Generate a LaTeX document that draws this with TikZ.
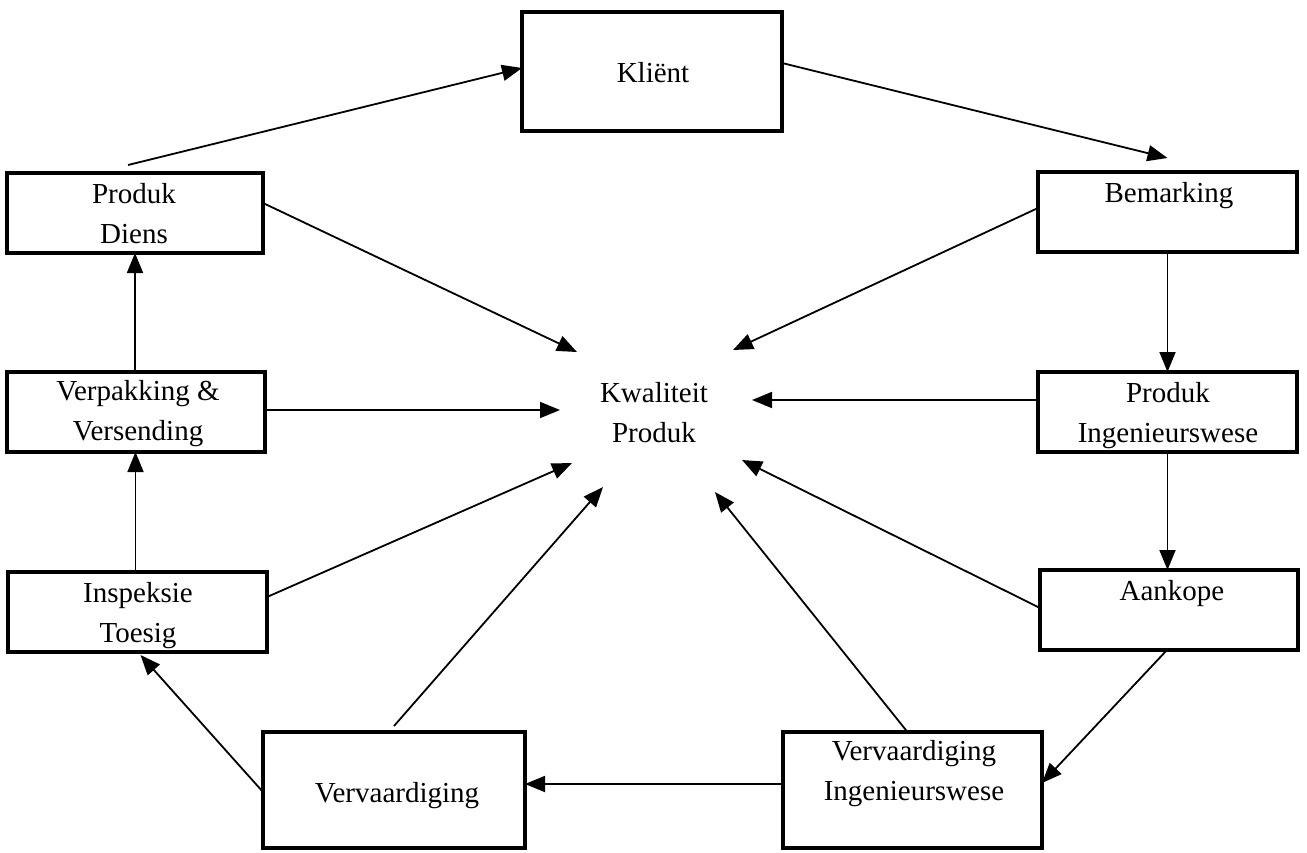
\documentclass[tikz,border=0pt]{standalone}
\usepackage{fontspec}
\setmainfont{Liberation Serif}
\usetikzlibrary{arrows.meta}
\begin{document}
\begin{tikzpicture}[x=1pt,y=-1pt,
  box/.style={draw=black,line width=3.5pt,fill=none,inner sep=0pt,outer sep=0pt},
  lbl/.style={font=\fontsize{29}{40}\selectfont,align=center,anchor=base,inner sep=0pt},
  conn/.style={line width=1.8pt,-{Triangle[length=20pt,width=16pt]}}]
\useasboundingbox (0,0) rectangle (1307,852);
% boxes
\node[box,minimum width=260pt,minimum height=119pt] (kl)  at (652,71.5) {};
\node[box,minimum width=259pt,minimum height=80pt]  (bem) at (1167.5,212) {};
\node[box,minimum width=259pt,minimum height=80pt]  (pi)  at (1167.5,412) {};
\node[box,minimum width=258pt,minimum height=80pt]  (aan) at (1169,610) {};
\node[box,minimum width=259pt,minimum height=116pt] (vi)  at (912.5,790) {};
\node[box,minimum width=262pt,minimum height=116pt] (ver) at (394,790) {};
\node[box,minimum width=259pt,minimum height=80pt]  (ins) at (137.5,612) {};
\node[box,minimum width=258pt,minimum height=80pt]  (vp)  at (136,412) {};
\node[box,minimum width=256pt,minimum height=80pt]  (pd)  at (135,213) {};
% labels (anchor = baseline of the last line)
\node[lbl] (klt)  at (653,82) {Kliënt};
\node[lbl] (bemt) at (1169,202) {Bemarking};
\node[lbl] (pit)  at (1168,442) {Produk\\Ingenieurswese};
\node[lbl] (aant) at (1172,600) {Aankope};
\node[lbl] (vit)  at (914,800) {Vervaardiging\\Ingenieurswese};
\node[lbl] (vert) at (397,802) {Vervaardiging};
\node[lbl] (inst) at (138,642) {Inspeksie\\Toesig};
\node[lbl] (vpt)  at (138,440) {Verpakking \&\\Versending};
\node[lbl] (pdt)  at (134,243) {Produk\\Diens};
\node[lbl] (kp)   at (654,442) {Kwaliteit\\Produk};
% arrow tips around the centre
\coordinate (t1) at (577,352);
\coordinate (t2) at (733,350);
\coordinate (t3) at (560,410);
\coordinate (t4) at (752,400);
\coordinate (t5) at (572,463);
\coordinate (t6) at (603,487);
\coordinate (t7) at (742,460);
\coordinate (t8) at (715,492);
% cycle
\draw[conn] ([xshift=-7pt,yshift=8pt]pd.north) -- ([yshift=3.5pt]kl.west);
\draw[conn] ([yshift=8.5pt]kl.east) -- ([yshift=14pt]bem.north);
\draw[conn] (bem.south) -- (pi.north);
\draw[conn] (pi.south) -- (pi.south |- aan.north);
\draw[conn] ([xshift=-2pt]aan.south) -- ([yshift=7pt]vi.east);
\draw[conn] ([yshift=6pt]vi.west) -- ([yshift=6pt]ver.east);
\draw[conn] ([yshift=-2pt]ver.west) -- ([xshift=3pt,yshift=-3pt]ins.south);
\draw[conn] ([xshift=-2pt]ins.north) -- ([xshift=-2pt]ins.north |- vp.south);
\draw[conn] ([xshift=-1pt]vp.north) -- ([xshift=-1pt]vp.north |- pd.south);
% to the centre
\draw[conn] ([yshift=4pt]bem.west) -- (t2);
\draw[conn] ([yshift=12pt]pi.west) -- (t4);
\draw[conn] ([yshift=2pt]aan.west) -- (t7);
\draw[conn] ([xshift=-5pt]vi.north) -- (t8);
\draw[conn] ([yshift=6pt]ver.north) -- (t6);
\draw[conn] ([yshift=15pt]ins.east) -- (t5);
\draw[conn] ([yshift=2pt]vp.east) -- (t3);
\draw[conn] ([yshift=10pt]pd.east) -- (t1);
\end{tikzpicture}
\end{document}
